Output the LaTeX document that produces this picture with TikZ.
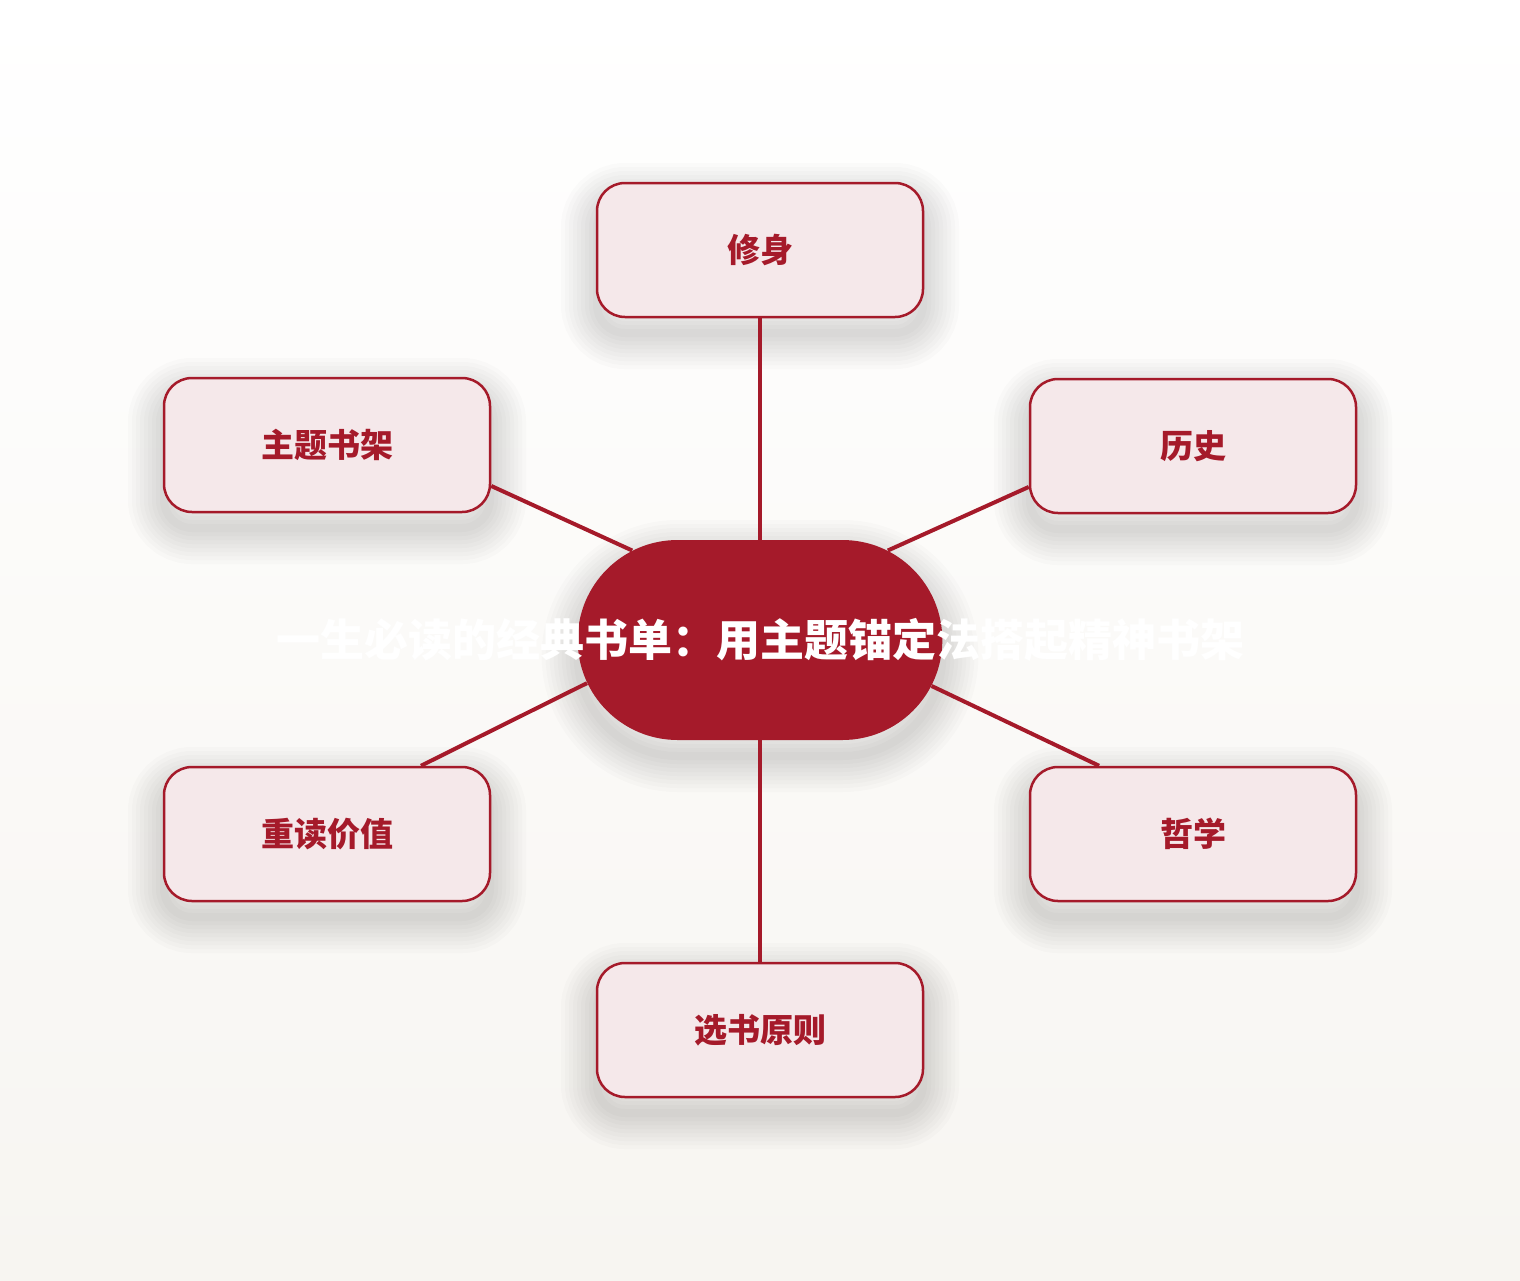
\documentclass[tikz,border=0pt]{standalone}
\usepackage{fontspec}
\newfontfamily\cjk{Noto Sans CJK SC}
\usetikzlibrary{shapes.misc}
\definecolor{deepred}{HTML}{A51A2A}
\definecolor{palepink}{HTML}{F5E8EA}
\definecolor{paper}{HTML}{F7F5F1}

\begin{document}
\begin{tikzpicture}[x=0.5pt,y=-0.5pt]
    \newcommand{\boxw}{163pt} % width of the topic boxes
    \newcommand{\boxh}{67pt}
    \newcommand{\lw}{2pt} % width of the links

    % set the styles
    \tikzset{
        shadowring/.style={
            preaction={draw=black, draw opacity=0.017, line width=#1,
                transform canvas={yshift=-8pt}}
            },
        softshadow/.style={
            shadowring/.list={36pt,32pt,28pt,24pt,20pt,16pt,12pt,8pt,4pt}
            },
        topic/.style={
            draw=deepred,
            line width=1.25pt,
            fill=palepink,
            rounded corners=14pt,
            minimum width=\boxw,
            minimum height=\boxh,
            text=deepred,
            font=\cjk\bfseries\fontsize{16.5pt}{20pt}\selectfont,
            softshadow
            },
        hubnode/.style={
            rounded rectangle,
            fill=deepred,
            minimum width=189pt,
            minimum height=100pt,
            text=white,
            font=\cjk\bfseries\fontsize{22pt}{26pt}\selectfont,
            softshadow
            },
        link/.style={
            draw=deepred,
            line width=\lw
            }
    }

    % paper
    \shade[top color=white, bottom color=paper] (0,0) rectangle (1520,1280);

    % centre
    \node[hubnode] (hub) at (760,640) {\makebox[0pt]{一生必读的经典书单：用主题锚定法搭起精神书架}};

    % topics
    \node[topic] (self)    at (760,250)  {修身};
    \node[topic] (history) at (1193,446) {历史};
    \node[topic] (philo)   at (1193,834) {哲学};
    \node[topic] (choose)  at (760,1030) {选书原则};
    \node[topic] (reread)  at (327,834)  {重读价值};
    \node[topic] (shelf)   at (327,445)  {主题书架};

    % links
    \draw[link] (hub.north) -- (self.south);
    \draw[link] (hub.35)    -- (history.194);
    \draw[link] (hub.345)   -- (philo.144);
    \draw[link] (hub.south) -- (choose.north);
    \draw[link] (hub.194)   -- (reread.36);
    \draw[link] (hub.145)   -- (shelf.346);

\end{tikzpicture}
\end{document}
